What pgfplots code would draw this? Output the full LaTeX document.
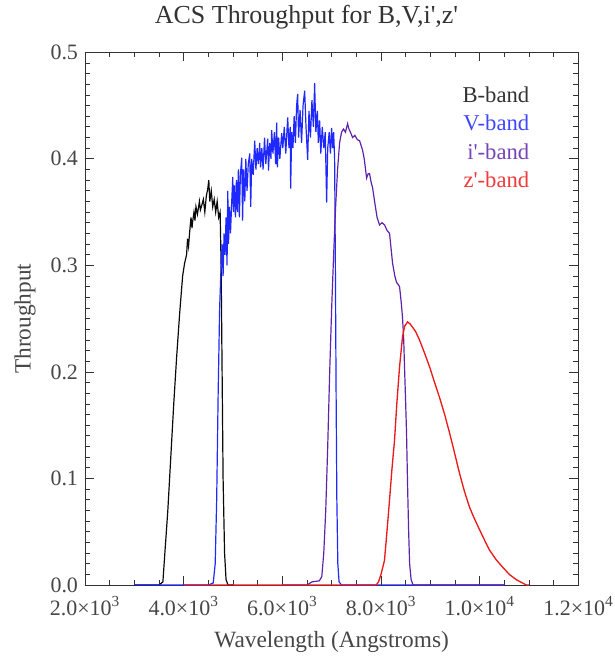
\documentclass[border=0pt]{standalone}
\usepackage{fontspec}
\setmainfont{Liberation Serif}
\usepackage{pgfplots}
\pgfplotsset{compat=1.18}
\definecolor{bcol}{RGB}{10,10,10}
\definecolor{vcol}{RGB}{30,40,255}
\definecolor{icol}{RGB}{95,35,170}
\definecolor{zcol}{RGB}{235,25,25}
\definecolor{txtgray}{RGB}{70,70,70}
\begin{document}
\begin{tikzpicture}
\useasboundingbox (-63.75pt,-56.25pt) rectangle (397.5pt,439.25pt);
\begin{axis}[
  at={(0,0)}, anchor=south west,
  scale only axis, width=370.5pt, height=400pt,
  xmin=2000, xmax=12000, ymin=0, ymax=0.5,
  clip=false,
  font=\fontsize{17}{20}\selectfont,
  axis line style={draw=black!80, line width=0.6pt},
  tick style={draw=black!80, line width=0.6pt},
  tick align=inside,
  major tick length=6.75pt, minor tick length=3.75pt,
  xtick={2000,4000,6000,8000,10000,12000},
  xticklabels={2.0×10\textsuperscript{3},4.0×10\textsuperscript{3},6.0×10\textsuperscript{3},8.0×10\textsuperscript{3},1.0×10\textsuperscript{4},1.2×10\textsuperscript{4}},
  minor x tick num=3,
  ytick={0,0.1,0.2,0.3,0.4,0.5},
  yticklabels={0.0,0.1,0.2,0.3,0.4,0.5},
  minor y tick num=9,
  scaled ticks=false,
  ticklabel style={text=txtgray, font=\fontsize{16.5}{19}\selectfont},
  xticklabel style={anchor=base, yshift=-22.5pt},
  yticklabel style={anchor=east, inner sep=0pt, xshift=-5pt},
  xlabel={Wavelength (Angstroms)},
  ylabel={Throughput},
  label style={text=txtgray, font=\fontsize{17.5}{20}\selectfont},
  xlabel style={at={(axis description cs:0.5,0)}, anchor=base, yshift=-47pt},
  ylabel style={at={(axis description cs:0,0.5)}, anchor=center, rotate=0, yshift=45pt},
  title={ACS Throughput for B,V,i\textquotesingle,z\textquotesingle},
  title style={at={(axis description cs:0.449,1)}, anchor=base, yshift=15.5pt, text=black!80, font=\fontsize{19.5}{23}\selectfont},
]
% B-band
\addplot[bcol, line width=0.9pt] coordinates {
(3000,0) (3500,0) (3580,0.003) (3620,0.03) (3680,0.07) (3740,0.12) (3800,0.17)
(3860,0.215) (3920,0.255) (3980,0.29) (4020,0.302) (4060,0.31) (4080,0.325)
(4100,0.318) (4120,0.33) (4150,0.345) (4170,0.335) (4180,0.34) (4210,0.35)
(4230,0.342) (4250,0.355) (4280,0.348) (4320,0.36) (4340,0.352) (4360,0.355)
(4400,0.362) (4430,0.35) (4460,0.365) (4490,0.372) (4510,0.38) (4530,0.36)
(4560,0.37) (4590,0.355) (4620,0.362) (4650,0.35) (4680,0.36) (4710,0.345)
(4740,0.35) (4760,0.30) (4780,0.2) (4800,0.1) (4830,0.03) (4860,0.005) (4900,0) (5000,0)
};
% V-band
\addplot[vcol, line width=0.9pt] coordinates {
(3000,0) (4500,0) (4600,0.002) (4640,0.02) (4670,0.08) (4700,0.18) (4730,0.26)
(4760,0.30) (4780,0.32) (4800,0.29) (4820,0.33) (4840,0.31) (4860,0.345) (4880,0.30)
(4895,0.37) (4910,0.32) (4930,0.355) (4950,0.33) (4975,0.36) (4996,0.383) (5010,0.35)
(5030,0.375) (5050,0.345) (5070,0.38) (5090,0.35) (5110,0.39) (5130,0.345) (5150,0.385)
(5178,0.401) (5195,0.342) (5215,0.39) (5240,0.36) (5260,0.40) (5285,0.37) (5310,0.395)
(5340,0.405) (5360,0.355) (5380,0.40) (5410,0.385) (5441,0.417) (5465,0.39) (5490,0.41)
(5515,0.395) (5542,0.415) (5560,0.392) (5585,0.41) (5610,0.39) (5640,0.42) (5665,0.395)
(5690,0.41) (5704,0.419) (5720,0.389) (5745,0.415) (5770,0.40) (5785,0.427) (5810,0.405)
(5840,0.425) (5865,0.395) (5886,0.434) (5900,0.392) (5925,0.42) (5950,0.40) (5987,0.424)
(6010,0.41) (6040,0.43) (6070,0.405) (6109,0.439) (6135,0.41) (6160,0.43) (6169,0.372)
(6190,0.425) (6215,0.41) (6240,0.44) (6265,0.415) (6290,0.45) (6311,0.461) (6330,0.42)
(6360,0.446) (6390,0.415) (6420,0.45) (6453,0.464) (6480,0.43) (6514,0.399) (6540,0.445)
(6570,0.42) (6600,0.455) (6630,0.43) (6655,0.471) (6680,0.425) (6710,0.445) (6730,0.415)
(6756,0.436) (6780,0.405) (6810,0.43) (6840,0.41) (6870,0.425) (6898,0.359) (6920,0.41)
(6950,0.425) (6975,0.405) (6999,0.429) (7020,0.41) (7040,0.425) (7060,0.40) (7075,0.30)
(7090,0.18) (7105,0.08) (7125,0.02) (7150,0.003) (7200,0) (10500,0)
};
% i'-band
\addplot[icol, line width=0.9pt] coordinates {
(6000,0) (6500,0) (6600,0.003) (6750,0.004) (6800,0.008) (6840,0.03) (6880,0.07)
(6920,0.13) (6960,0.20) (7000,0.26) (7040,0.31) (7080,0.355) (7120,0.39) (7161,0.415)
(7200,0.425) (7240,0.428) (7280,0.425) (7323,0.433) (7350,0.428) (7380,0.425) (7424,0.42)
(7470,0.422) (7520,0.418) (7566,0.417) (7600,0.412) (7627,0.408) (7660,0.40) (7708,0.382)
(7740,0.386) (7768,0.386) (7800,0.378) (7829,0.373) (7870,0.36) (7920,0.345) (7971,0.338)
(8020,0.34) (8072,0.338) (8120,0.333) (8173,0.33) (8234,0.302) (8280,0.29) (8315,0.284)
(8350,0.282) (8376,0.28) (8410,0.265) (8436,0.251) (8460,0.23) (8477,0.204) (8500,0.17)
(8517,0.143) (8540,0.09) (8560,0.05) (8580,0.02) (8610,0.005) (8650,0) (10500,0)
};
% z'-band
\addplot[zcol, line width=1pt] coordinates {
(4000,0) (7900,0) (7950,0.003) (8000,0.01) (8070,0.023) (8120,0.05) (8173,0.08)
(8220,0.108) (8274,0.136) (8320,0.17) (8376,0.205) (8436,0.233) (8480,0.243) (8538,0.247)
(8590,0.245) (8639,0.242) (8700,0.238) (8780,0.23) (8880,0.218) (8983,0.205) (9086,0.19)
(9186,0.176) (9290,0.16) (9388,0.143) (9490,0.124) (9590,0.105) (9690,0.088) (9794,0.073)
(9896,0.062) (9996,0.052) (10100,0.042) (10197,0.033) (10330,0.024) (10460,0.017)
(10600,0.01) (10744,0.005) (10946,0) (11000,0)
};
\node[anchor=east, inner sep=0pt, text=black!80] at (rel axis cs:0.9008,0.921) {B-band};
\node[anchor=east, inner sep=0pt, text=vcol!85!white] at (rel axis cs:0.9008,0.867) {V-band};
\node[anchor=east, inner sep=0pt, text=icol!85!white] at (rel axis cs:0.9008,0.814) {i\textquotesingle-band};
\node[anchor=east, inner sep=0pt, text=zcol!85!white] at (rel axis cs:0.9008,0.760) {z\textquotesingle-band};
\end{axis}
\end{tikzpicture}
\end{document}
